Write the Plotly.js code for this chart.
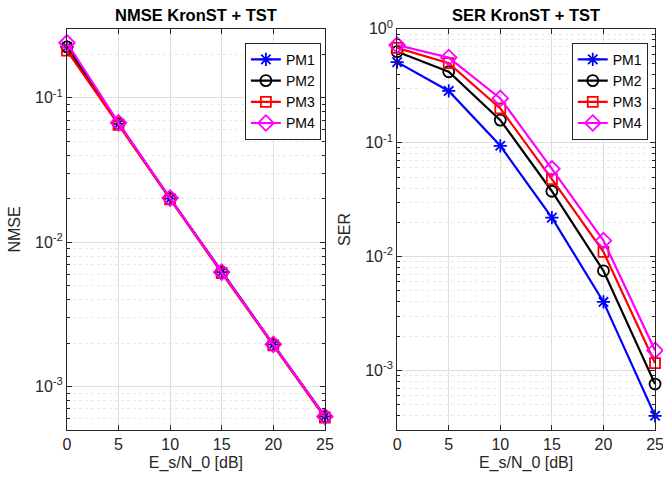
<!DOCTYPE html>
<html>
<head>
<meta charset="utf-8">
<script src="https://cdn.plot.ly/plotly-3.0.1.min.js"></script>
<style>html,body{margin:0;padding:0;background:#fff;}#plot{width:663px;height:481px;}</style>
</head>
<body>
<div id="plot"></div>
<script>
const snr = [0, 5, 10, 15, 20, 25];
const seriesNames = ['PM1', 'PM2', 'PM3', 'PM4'];

// NMSE KronST + TST
const nmsePM1 = [0.225, 0.066, 0.0200, 0.0062, 0.00195, 0.00062];
const nmsePM2 = [0.225, 0.066, 0.0200, 0.0062, 0.00195, 0.00062];
const nmsePM3 = [0.212, 0.065, 0.0198, 0.0061, 0.00193, 0.00061];
const nmsePM4 = [0.240, 0.067, 0.0202, 0.0062, 0.00196, 0.00062];

// SER KronST + TST
const serPM1 = [0.51, 0.285, 0.094, 0.0220, 0.0040, 0.00040];
const serPM2 = [0.63, 0.42, 0.158, 0.0375, 0.0075, 0.00076];
const serPM3 = [0.68, 0.50, 0.200, 0.0480, 0.0110, 0.00116];
const serPM4 = [0.72, 0.56, 0.245, 0.0590, 0.0138, 0.00150];

const xTicks = [0, 5, 10, 15, 20, 25];
const nmseTickVals = [0.1, 0.01, 0.001];
const nmseTickText = ['10<sup>-1</sup>', '10<sup>-2</sup>', '10<sup>-3</sup>'];
const serTickVals = [1, 0.1, 0.01, 0.001];
const serTickText = ['10<sup>0</sup>', '10<sup>-1</sup>', '10<sup>-2</sup>', '10<sup>-3</sup>'];

const colors = ['#0000ff', '#000000', '#ff0000', '#ff00ff'];
const symbols = ['asterisk-open', 'circle-open', 'square-open', 'diamond-open'];
const msize = [11, 11, 10, 12];

function minorVals(lo, hi) {
  const v = [];
  for (let e = lo; e <= hi; e++) for (let m = 2; m <= 9; m++) v.push(m * Math.pow(10, e));
  return v;
}

const nmseData = [nmsePM1, nmsePM2, nmsePM3, nmsePM4];
const serData = [serPM1, serPM2, serPM3, serPM4];
const traces = [];
nmseData.forEach((d, i) => traces.push({
  x: snr, y: d, xaxis: 'x', yaxis: 'y', name: seriesNames[i], legend: 'legend',
  mode: 'lines+markers', cliponaxis: false,
  line: {color: colors[i], width: 2.2},
  marker: {symbol: symbols[i], size: msize[i], color: colors[i], line: {color: colors[i], width: 1.8}}
}));
serData.forEach((d, i) => traces.push({
  x: snr, y: d, xaxis: 'x2', yaxis: 'y2', name: seriesNames[i], legend: 'legend2',
  mode: 'lines+markers', cliponaxis: false,
  line: {color: colors[i], width: 2.2},
  marker: {symbol: symbols[i], size: msize[i], color: colors[i], line: {color: colors[i], width: 1.8}}
}));

const font = {family: 'Liberation Sans, Arial, sans-serif', color: '#262626'};
const tickFont = {family: font.family, size: 16, color: '#262626'};
const titleFont = {family: font.family, size: 16, color: '#262626'};

function xAxis(anchor, domain) {
  return {
    domain: domain, anchor: anchor, range: [0, 25], tickvals: xTicks,
    ticks: 'inside', ticklen: 5, tickcolor: '#262626', mirror: 'ticks',
    showline: true, linecolor: '#262626', linewidth: 1,
    showgrid: true, gridcolor: '#dfdfdf', gridwidth: 1, zeroline: false,
    ticklabeloverflow: 'allow',
    tickfont: tickFont, title: {text: 'E_s/N_0 [dB]', font: titleFont, standoff: 4}
  };
}
function yAxis(anchor, range, tv, tt, lo, hi, title) {
  return {
    domain: [0.106, 0.94], anchor: anchor, type: 'log', range: range,
    tickmode: 'array', tickvals: tv, ticktext: tt,
    ticks: 'inside', ticklen: 5, tickcolor: '#262626', mirror: 'ticks',
    showline: true, linecolor: '#262626', linewidth: 1,
    showgrid: true, gridcolor: '#dfdfdf', gridwidth: 1, zeroline: false,
    ticklabeloverflow: 'allow',
    minor: {tickmode: 'array', tickvals: minorVals(lo, hi), showgrid: true, gridcolor: '#e8e8e8', griddash: 'dot', gridwidth: 1, ticks: 'inside', ticklen: 3, tickcolor: '#262626'},
    tickfont: tickFont, title: {text: title, font: titleFont, standoff: 10}
  };
}

const legendFont = {family: font.family, size: 14, color: '#000'};
const layout = {
  width: 663, height: 481,
  margin: {l: 0, r: 0, t: 0, b: 0},
  paper_bgcolor: '#ffffff', plot_bgcolor: '#ffffff',
  font: font,
  showlegend: true,
  xaxis: xAxis('y', [0.101, 0.490]),
  yaxis: yAxis('x', [Math.log10(5e-4), Math.log10(0.3)], nmseTickVals, nmseTickText, -4, -1, 'NMSE'),
  xaxis2: xAxis('y2', [0.599, 0.988]),
  yaxis2: yAxis('x2', [Math.log10(3e-4), 0], serTickVals, serTickText, -4, -1, 'SER'),
  legend: {x: 0.484, y: 0.911, xanchor: 'right', yanchor: 'top', bgcolor: '#ffffff', bordercolor: '#262626', borderwidth: 1,
    font: legendFont, itemwidth: 30, tracegroupgap: 0},
  legend2: {x: 0.977, y: 0.911, xanchor: 'right', yanchor: 'top', bgcolor: '#ffffff', bordercolor: '#262626', borderwidth: 1,
    font: legendFont, itemwidth: 30, tracegroupgap: 0},
  annotations: [
    {text: '<b>NMSE KronST + TST</b>', xref: 'paper', yref: 'paper', x: 0.2955, y: 1 - 15/481, xanchor: 'center', yanchor: 'middle', showarrow: false, font: {family: font.family, size: 16.5, color: '#000'}},
    {text: '<b>SER KronST + TST</b>', xref: 'paper', yref: 'paper', x: 0.7935, y: 1 - 15/481, xanchor: 'center', yanchor: 'middle', showarrow: false, font: {family: font.family, size: 16.5, color: '#000'}}
  ]
};

Plotly.newPlot('plot', traces, layout, {displayModeBar: false, staticPlot: true});
</script>
</body>
</html>
